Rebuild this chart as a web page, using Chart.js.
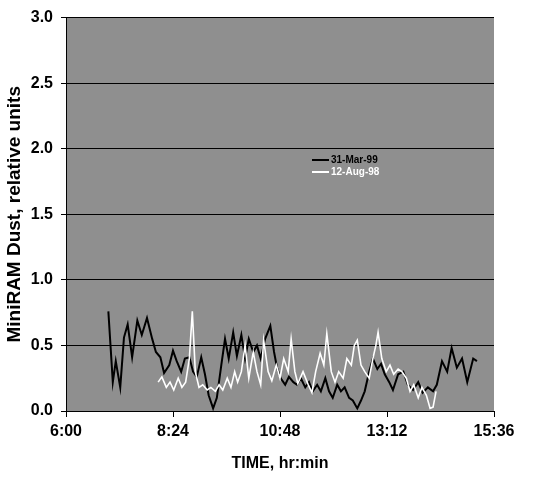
<!DOCTYPE html>
<html>
<head>
<meta charset="utf-8">
<script src="https://cdn.jsdelivr.net/npm/chart.js@4"></script>
<style>
  html, body { margin: 0; padding: 0; background: #fff; }
  #wrap { width: 536px; height: 494px; }
</style>
</head>
<body>
<div id="wrap"><canvas id="dustChart"></canvas></div>
<script>
// time in minutes after midnight
const marchTimes = [417, 423, 427, 433, 438, 443, 449, 456, 462, 469, 476, 481, 487, 492, 499, 504, 509, 515, 520, 526,
    531, 536, 542, 547, 552, 558, 563, 569, 574, 579, 585, 590, 596, 601, 606, 612, 617, 622, 628, 635,
    640, 644, 649, 655, 660, 666, 671, 676, 682, 687, 692, 698, 703, 709, 714, 719, 725, 730, 735, 741,
    746, 752, 757, 762, 768, 773, 779, 784, 789, 795, 800, 807, 814, 820, 827, 834, 840, 847, 854, 859,
    866, 873, 879, 886, 893, 900, 908, 913];
const marchDust = [0.76, 0.22, 0.38, 0.18, 0.56, 0.66, 0.41, 0.69, 0.58, 0.71, 0.55, 0.45, 0.41, 0.29, 0.35, 0.46, 0.38, 0.30, 0.40, 0.41,
    0.30, 0.26, 0.41, 0.28, 0.12, 0.02, 0.10, 0.35, 0.55, 0.40, 0.60, 0.42, 0.58, 0.40, 0.55, 0.45, 0.50, 0.40, 0.55, 0.65,
    0.45, 0.33, 0.25, 0.20, 0.26, 0.22, 0.20, 0.25, 0.18, 0.22, 0.15, 0.20, 0.15, 0.25, 0.15, 0.10, 0.20, 0.15, 0.18, 0.10,
    0.08, 0.02, 0.08, 0.15, 0.30, 0.40, 0.32, 0.36, 0.28, 0.22, 0.16, 0.28, 0.30, 0.20, 0.16, 0.22, 0.14, 0.18, 0.15, 0.20,
    0.38, 0.30, 0.48, 0.33, 0.40, 0.22, 0.40, 0.38];

const augustTimes = [484, 489, 495, 500, 505, 511, 516, 521, 526, 530, 534, 539, 544, 550, 555, 561, 566, 571, 577, 582,
    587, 591, 596, 601, 606, 612, 617, 622, 626, 632, 637, 643, 648, 653, 659, 663, 668, 672, 679, 686,
    691, 696, 702, 707, 711, 717, 722, 727, 733, 738, 744, 748, 752, 757, 762, 768, 773, 777, 780, 785,
    791, 796, 801, 807, 812, 818, 823, 828, 834, 839, 845, 850, 854, 858];
const augustDust = [0.22, 0.26, 0.18, 0.22, 0.16, 0.25, 0.18, 0.22, 0.40, 0.76, 0.30, 0.18, 0.20, 0.16, 0.18, 0.15, 0.20, 0.16, 0.25, 0.18,
    0.30, 0.22, 0.30, 0.50, 0.25, 0.45, 0.30, 0.20, 0.54, 0.30, 0.23, 0.35, 0.25, 0.40, 0.30, 0.55, 0.30, 0.21, 0.30, 0.20,
    0.14, 0.30, 0.44, 0.35, 0.59, 0.30, 0.22, 0.30, 0.25, 0.40, 0.35, 0.50, 0.54, 0.35, 0.30, 0.25, 0.40, 0.50, 0.60, 0.40,
    0.30, 0.35, 0.28, 0.32, 0.30, 0.25, 0.15, 0.20, 0.10, 0.18, 0.12, 0.02, 0.03, 0.15];

const seriesNames = ['31-Mar-99', '12-Aug-98'];
const xTicks = [360, 504, 648, 792, 936];
const yTicks = [0, 0.5, 1, 1.5, 2, 2.5, 3];

function toPoints(times, values) {
    return times.map((t, i) => ({ x: t, y: values[i] }));
}

function hhmm(m) {
    return Math.floor(m / 60) + ':' + String(m % 60).padStart(2, '0');
}

// gray plot background
const plotBg = {
    id: 'plotBg',
    beforeDraw(chart) {
        const { ctx, chartArea: a } = chart;
        ctx.save();
        ctx.fillStyle = '#8f8f8f';
        ctx.fillRect(a.left, a.top, a.right - a.left, a.bottom - a.top);
        ctx.restore();
    }
};

// small legend sitting inside the plot
const innerLegend = {
    id: 'innerLegend',
    afterDraw(chart) {
        const ctx = chart.ctx;
        const x = 312, y = 160;
        const colors = ['#000', '#fff'];
        ctx.save();
        ctx.font = 'bold 10px "Liberation Sans", Arial, sans-serif';
        ctx.textBaseline = 'middle';
        seriesNames.forEach((name, i) => {
            const yy = y + i * 12;
            ctx.strokeStyle = colors[i];
            ctx.lineWidth = 2;
            ctx.beginPath();
            ctx.moveTo(x, yy);
            ctx.lineTo(x + 17, yy);
            ctx.stroke();
            ctx.fillStyle = colors[i];
            ctx.fillText(name, x + 19, yy);
        });
        ctx.restore();
    }
};

const config = {
    type: 'line',
    data: {
        datasets: [
            {
                label: seriesNames[0],
                data: toPoints(marchTimes, marchDust),
                borderColor: '#000',
                borderWidth: 2,
                pointRadius: 0,
                tension: 0,
                order: 1
            },
            {
                label: seriesNames[1],
                data: toPoints(augustTimes, augustDust),
                borderColor: '#fff',
                borderWidth: 1.6,
                pointRadius: 0,
                tension: 0,
                order: 0
            }
        ]
    },
    options: {
        responsive: true,
        maintainAspectRatio: false,
        animation: false,
        layout: { padding: { top: 14, right: 42, left: 0, bottom: 0 } },
        plugins: {
            legend: { display: false },
            tooltip: { enabled: false }
        },
        scales: {
            x: {
                type: 'linear',
                min: xTicks[0],
                max: xTicks[xTicks.length - 1],
                afterBuildTicks: s => { s.ticks = xTicks.map(v => ({ value: v })); },
                afterFit: s => { s.height = 83; },
                border: { display: true, color: '#000', width: 1 },
                grid: { drawOnChartArea: false, color: '#000', tickLength: 6 },
                ticks: {
                    color: '#000',
                    padding: 5,
                    maxRotation: 0,
                    font: { family: '"Liberation Sans", Arial, sans-serif', size: 16, weight: 'bold' },
                    callback: v => hhmm(v)
                },
                title: {
                    display: true,
                    text: 'TIME, hr:min',
                    color: '#000',
                    padding: { top: 14, bottom: 21 },
                    font: { family: '"Liberation Sans", Arial, sans-serif', size: 16, weight: 'bold' }
                }
            },
            y: {
                min: 0,
                max: 3,
                afterBuildTicks: s => { s.ticks = yTicks.map(v => ({ value: v })); },
                afterFit: s => { s.width = 66; },
                border: { display: true, color: '#000', width: 1 },
                grid: { color: '#000', lineWidth: 1, tickLength: 5 },
                ticks: {
                    color: '#000',
                    padding: 8,
                    font: { family: '"Liberation Sans", Arial, sans-serif', size: 16, weight: 'bold' },
                    callback: v => v.toFixed(1)
                },
                title: {
                    display: true,
                    text: 'MiniRAM Dust, relative units',
                    color: '#000',
                    padding: { top: 3, bottom: 0 },
                    font: { family: '"Liberation Sans", Arial, sans-serif', size: 19, weight: 'bold' }
                }
            }
        }
    },
    plugins: [plotBg, innerLegend]
};

const dustChart = new Chart(document.getElementById('dustChart'), config);
</script>
</body>
</html>
